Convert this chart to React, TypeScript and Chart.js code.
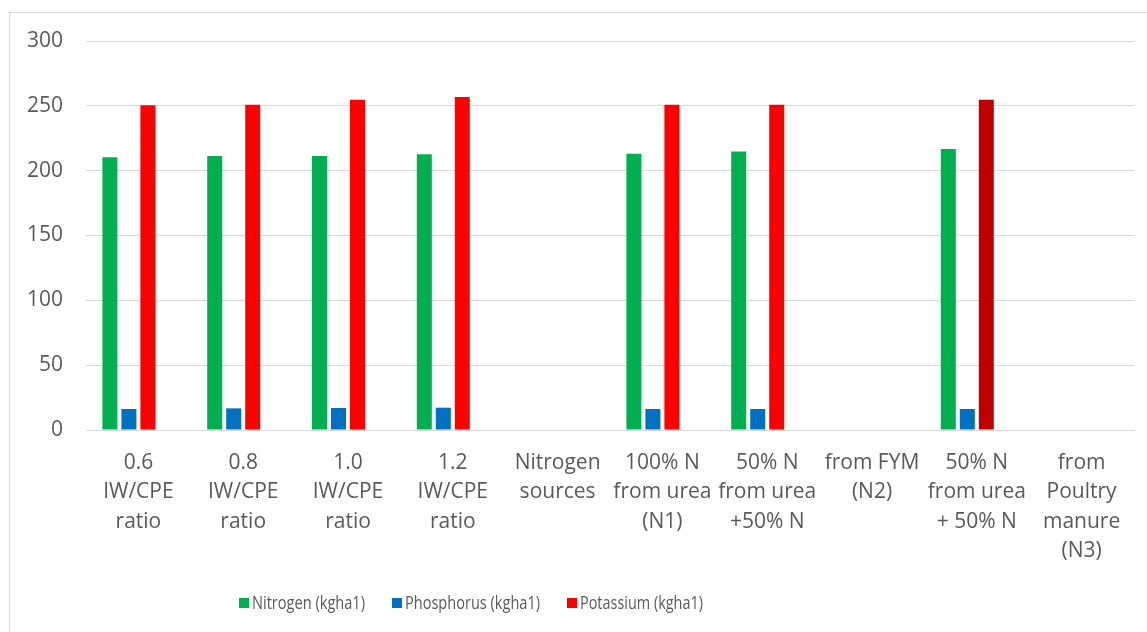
import React, { useEffect, useRef } from "react";
import { Chart, registerables } from "chart.js";

Chart.register(...registerables);

const categories: string[][] = [
  ["0.6", "IW/CPE", "ratio"],
  ["0.8", "IW/CPE", "ratio"],
  ["1.0", "IW/CPE", "ratio"],
  ["1.2", "IW/CPE", "ratio"],
  ["Nitrogen", "sources"],
  ["100% N", "from urea", "(N1)"],
  ["50% N", "from urea", "+50% N"],
  ["from FYM", "(N2)"],
  ["50% N", "from urea", "+ 50% N"],
  ["from", "Poultry", "manure", "(N3)"],
];

const nitrogen = [210.4, 211.4, 211.4, 212.7, null, 213, 214.8, null, 216.8, null];
const phosphorus = [16.2, 16.7, 17, 17.2, null, 16.2, 16.2, null, 16.2, null];
const potassium = [250.5, 250.8, 254.6, 256.9, null, 250.8, 250.8, null, 254.6, null];
const extraSeries = [0, 0, 0, 0, null, 0, 0, null, 0, null];

const yTicks = { min: 0, max: 300, step: 50 };

const seriesNames = ["Nitrogen (kgha1)", "Phosphorus (kgha1)", "Potassium (kgha1)", ""];
const seriesColors = ["#00B050", "#0070C0", "#FF0000"];

const legendPlugin = {
  id: "customLegend",
  afterDraw(chart: any) {
    const ctx = chart.ctx;
    ctx.save();
    ctx.font = "18px 'Open Sans'";
    ctx.textBaseline = "middle";
    ctx.fillStyle = "#595959";
    const widths = [113, 135, 123];
    const y = 590;
    let x = 229;
    seriesNames.slice(0, 3).forEach((name, i) => {
      ctx.fillStyle = seriesColors[i];
      ctx.fillRect(x, y - 5, 10, 10);
      x += 13;
      ctx.fillStyle = "#595959";
      const w = Math.min(ctx.measureText(name).width, widths[i]);
      ctx.fillText(name, x, y + 1, widths[i]);
      x += w + 27;
    });
    ctx.restore();
  },
};

export default function App() {
  const ref = useRef<HTMLCanvasElement | null>(null);

  useEffect(() => {
    if (!ref.current) return;
    const potColors = potassium.map((_, i) => (i === 8 ? "#C00000" : "#FF0000"));
    const chart = new Chart(ref.current, {
      type: "bar",
      data: {
        labels: categories,
        datasets: [
          { label: seriesNames[0], data: nitrogen, backgroundColor: seriesColors[0] },
          { label: seriesNames[1], data: phosphorus, backgroundColor: seriesColors[1] },
          { label: seriesNames[2], data: potassium, backgroundColor: potColors },
          { label: seriesNames[3], data: extraSeries, backgroundColor: "rgba(0,0,0,0)" },
        ],
      },
      plugins: [legendPlugin],
      options: {
        animation: false,
        responsive: false,
        maintainAspectRatio: false,
        layout: { padding: { top: 28, right: 13, left: 0, bottom: 52 } },
        datasets: {
          bar: { categoryPercentage: 0.725, barPercentage: 0.79 },
        },
        plugins: {
          tooltip: { enabled: false },
          legend: { display: false },
        },
        scales: {
          x: {
            grid: { display: false, drawTicks: false },
            border: { display: true, color: "#D9D9D9", width: 1 },
            ticks: {
              color: "#595959",
              padding: 18,
              maxRotation: 0,
              autoSkip: false,
              font: { family: "Open Sans", size: 21, lineHeight: 1.405 },
            },
            afterFit: (s: any) => {
              s.height = 150;
            },
          },
          y: {
            min: yTicks.min,
            max: yTicks.max,
            grid: { color: "#D9D9D9", lineWidth: 1, drawTicks: false },
            border: { display: false },
            ticks: {
              stepSize: yTicks.step,
              color: "#595959",
              padding: 23,
              font: { family: "Open Sans", size: 21 },
            },
            afterFit: (s: any) => {
              s.width = 76;
              s.paddingTop = 0;
              s.paddingBottom = 0;
            },
          },
        },
      },
    });
    return () => chart.destroy();
  }, []);

  return (
    <div style={{ position: "fixed", inset: 0, overflow: "hidden", background: "#fff" }}>
      <div
        style={{
          position: "absolute",
          left: 9,
          top: 12,
          width: 1150,
          height: 630,
          border: "1px solid #D9D9D9",
          background: "#fff",
        }}
      >
        <canvas ref={ref} width={1137} height={619} style={{ display: "block", width: 1137, height: 619 }} />
      </div>
    </div>
  );
}
